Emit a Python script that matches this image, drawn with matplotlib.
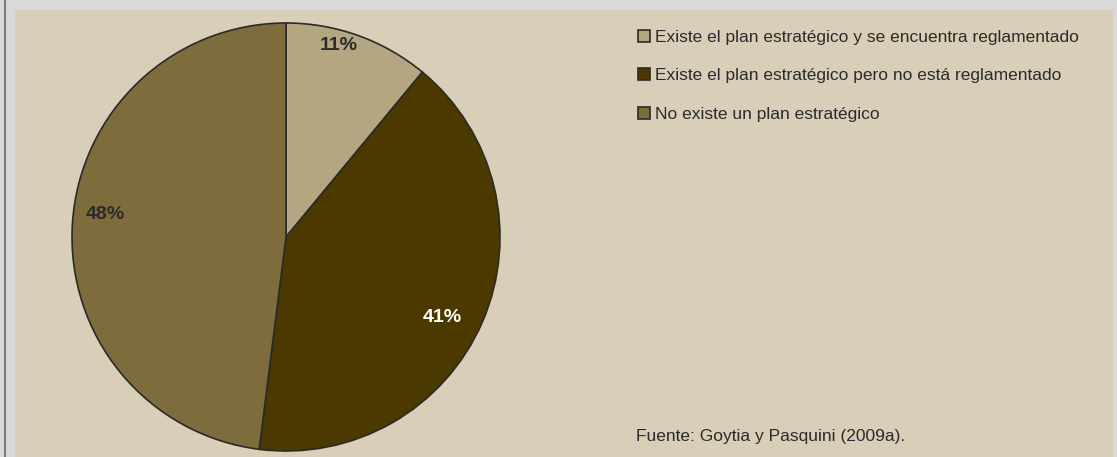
import matplotlib.pyplot as plt
from matplotlib.patches import Rectangle
import numpy as np

plt.rcParams['font.family'] = ['Liberation Sans', 'DejaVu Sans']

categorias = ["Existe el plan estratégico y se encuentra reglamentado",
              "Existe el plan estratégico pero no está reglamentado",
              "No existe un plan estratégico"]
porcentajes = [11, 41, 48]
colores = ["#b5a682", "#4b3900", "#7f6c3c"]
color_etiqueta = ["#2b2b2b", "#ffffff", "#2b2b2b"]
# posicion de cada etiqueta: radio y desvio angular respecto al centro de la porcion
radio_etiqueta = [0.93, 0.82, 0.85]
desvio_etiqueta = [4.4, -3.8, -3.6]

W, H = 1117, 457
fig = plt.figure(figsize=(W / 100, H / 100), dpi=100)
fig.patch.set_facecolor("#d9d9d9")

# panel beige y borde izquierdo
fig.patches.append(Rectangle((15 / W, 0), (1113 - 15) / W, (H - 10) / H,
                             transform=fig.transFigure, facecolor="#d9cfb9",
                             edgecolor="none", zorder=-5))
fig.lines.append(plt.Line2D([4.5 / W, 4.5 / W], [0, 1], transform=fig.transFigure,
                            color="#7a7a7a", lw=1.5, zorder=-5))

cx, cy, r = 286, 237, 214
ax = fig.add_axes([(cx - r) / W, (H - cy - r) / H, 2 * r / W, 2 * r / H])
ax.set_facecolor("none")
wedges, _ = ax.pie(porcentajes, colors=colores, startangle=90, counterclock=False,
                   wedgeprops=dict(edgecolor="#2a2a2a", linewidth=1.2))
ax.set_xlim(-1, 1)
ax.set_ylim(-1, 1)
ax.set_aspect("equal")
ax.axis("off")

for w, p, c, rr, d in zip(wedges, porcentajes, color_etiqueta, radio_etiqueta, desvio_etiqueta):
    ang = np.deg2rad((w.theta1 + w.theta2) / 2 + d)
    ax.text(rr * np.cos(ang), rr * np.sin(ang), f"{p}%", ha="center", va="center",
            fontsize=14, fontweight="bold", color=c)

fig.legend(wedges, categorias, loc="upper left", bbox_to_anchor=(622 / W, 1 - 14 / H),
           frameon=False, fontsize=12.5, handlelength=0.7, handleheight=0.7,
           handletextpad=0.3, labelspacing=1.35, labelcolor="#2b2b2b")

fig.text(636 / W, 1 - 437 / H, "Fuente: Goytia y Pasquini (2009a).", fontsize=12.5,
         color="#2b2b2b", va="center", ha="left")

fig.savefig("out.png", dpi=100, facecolor=fig.get_facecolor())
